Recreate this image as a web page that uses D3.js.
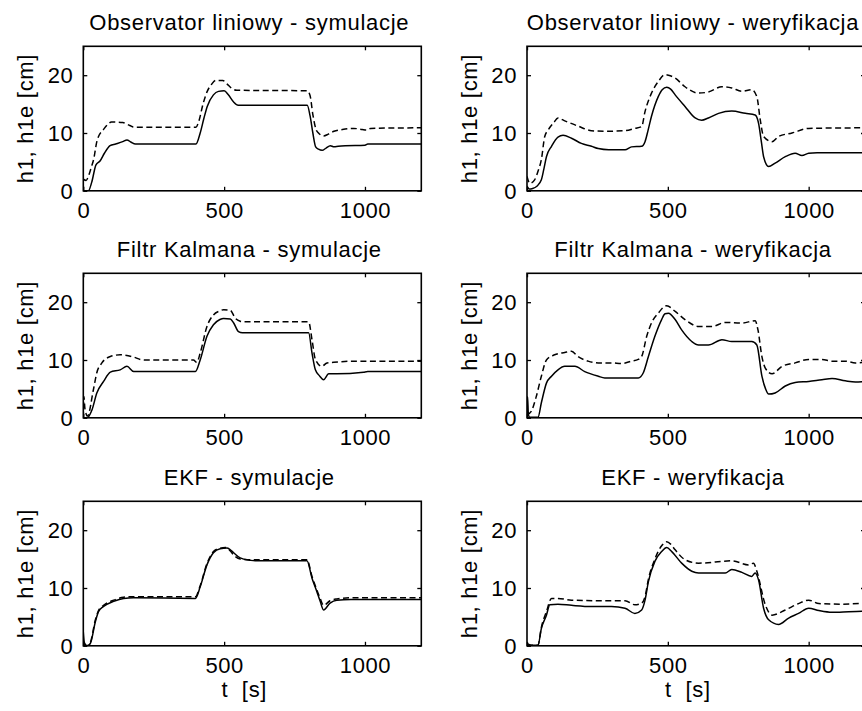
<!DOCTYPE html>
<html>
<head>
<meta charset="utf-8">
<script src="https://cdn.jsdelivr.net/npm/d3@7"></script>
<style>
  html, body { margin: 0; padding: 0; background: #fff; overflow: hidden; }
  svg { display: block; }
  text { font-family: "Liberation Sans", Arial, Helvetica, sans-serif; fill: #000; }
</style>
</head>
<body>
<svg id="chart" width="862" height="711"></svg>
<script>
// ---- data ----
const titles = [
  "Observator liniowy - symulacje", "Observator liniowy - weryfikacja",
  "Filtr Kalmana - symulacje", "Filtr Kalmana - weryfikacja",
  "EKF - symulacje", "EKF - weryfikacja"
];
const yLabel = "h1, h1e [cm]";
const xLabel = "t  [s]";
const xTicks = [0, 500, 1000];
const yTicks = [0, 10, 20];
const xDomain = [0, 1200];
const yDomain = [0, 25];

// solid = h1, dashed = h1e ; [t (s), h (cm)]
const obsSimSolid = [[0,0],[18,0],[30,1.5],[45,4.5],[60,5.2],[75,6.5],[95,7.8],[115,8.1],[140,8.5],[155,8.8],[170,8.4],[185,8.1],[400,8.1],[415,10],[428,12.5],[440,14.6],[462,16.6],[480,17.2],[500,17.3],[515,16.6],[533,15.4],[550,14.8],[795,14.8],[805,13],[815,10],[825,7.6],[835,7.2],[848,7.0],[862,7.4],[877,7.8],[890,7.6],[905,7.7],[930,7.8],[1000,7.9],[1010,8.1],[1200,8.1]];
const obsSimDashed = [[0,2.0],[10,1.8],[18,2.5],[28,4],[37,5.5],[48,8.5],[56,9.6],[70,10.5],[85,11.4],[100,11.9],[140,11.8],[165,11.3],[180,11.0],[400,11.0],[410,12],[425,15.0],[440,17.2],[455,18.4],[470,19.1],[495,19.1],[510,18.5],[525,17.8],[545,17.4],[795,17.3],[805,16.5],[815,13.2],[825,10.8],[835,10.0],[853,9.5],[870,9.8],[890,10.3],[920,10.6],[960,10.8],[990,10.6],[1005,10.5],[1020,10.8],[1200,10.9]];

const obsVerSolid = [[0,0.8],[8,0.3],[20,0.4],[35,0.8],[51,1.9],[60,3.8],[69,5.9],[87,7.7],[110,9.3],[128,9.6],[158,9.1],[193,8.2],[229,7.7],[253,7.3],[290,7.1],[348,7.1],[371,7.6],[407,7.7],[419,8.5],[430,10.5],[442,12.9],[466,16.3],[480,17.5],[496,17.9],[510,17.6],[526,16.6],[561,14.6],[597,12.6],[620,12.2],[644,12.6],[680,13.4],[727,13.8],[775,13.4],[810,13.1],[822,11.7],[832,8.5],[840,5.9],[858,4.2],[881,4.8],[917,5.9],[952,6.5],[976,6.1],[1000,6.5],[1030,6.6],[1200,6.6]];
const obsVerDashed = [[0,2.5],[10,1.3],[27,1.9],[40,3.5],[51,5.4],[63,9.4],[75,10.5],[95,11.8],[110,12.6],[134,12.1],[181,11.2],[229,10.4],[276,10.3],[348,10.4],[383,10.8],[407,11.1],[419,13.7],[442,16.9],[466,18.9],[490,20.1],[502,20.0],[526,19.5],[561,18.0],[609,16.9],[644,17.1],[692,18.0],[727,17.8],[763,17.2],[798,17.5],[816,16.3],[828,12.3],[840,9.4],[870,8.5],[893,9.4],[941,10.0],[1000,10.8],[1200,10.9]];

const kalSimSolid = [[0,0],[13,0],[31,1.4],[48,4.3],[72,6.3],[96,7.9],[131,8.3],[155,8.9],[179,8.0],[398,8.0],[415,10],[439,14.1],[462,16.1],[485,17.0],[498,17.2],[522,17.1],[534,16.4],[551,14.9],[565,14.7],[800,14.7],[812,11.2],[824,8.3],[838,7.3],[853,6.6],[871,7.6],[900,7.6],[995,7.9],[1010,8.0],[1200,8.0]];
const kalSimDashed = [[0,0],[2,3.7],[6,1.5],[15,0.3],[36,4.9],[48,7.8],[66,9.5],[96,10.6],[131,10.9],[179,10.5],[202,10.1],[220,10.0],[391,10.0],[403,9.6],[415,11.2],[439,15.8],[462,17.8],[485,18.5],[498,18.7],[522,18.6],[540,17.2],[557,16.7],[570,16.6],[800,16.6],[812,13.5],[824,10.1],[847,8.9],[865,9.5],[889,9.6],[950,9.8],[1200,9.8]];

const kalVerSolid = [[0,0],[2,3.7],[5,0.5],[10,0.1],[39,0.1],[51,2.6],[69,6.0],[87,7.2],[110,8.3],[134,8.9],[170,8.9],[205,8.0],[253,7.2],[276,6.9],[300,6.9],[395,6.9],[413,7.8],[431,10.6],[454,14.1],[478,17.0],[490,18.0],[502,18.1],[526,17.0],[549,15.2],[585,13.2],[609,12.6],[644,12.6],[692,13.5],[727,13.2],[798,13.2],[816,12.6],[834,7.2],[847,5.0],[858,4.1],[881,4.3],[917,5.5],[952,6.1],[1000,6.3],[1047,6.6],[1083,6.8],[1130,6.4],[1166,6.2],[1200,6.3]];
const kalVerDashed = [[0,0.5],[15,1.1],[33,3.7],[51,7.2],[69,10.0],[98,10.9],[134,11.3],[158,11.5],[181,10.6],[217,9.8],[253,9.5],[300,9.5],[336,9.4],[371,9.8],[395,10.1],[407,10.6],[425,14.1],[442,16.4],[466,18.1],[496,19.4],[526,18.4],[561,17.0],[609,15.8],[656,15.8],[704,16.5],[763,16.4],[810,16.8],[820,15.2],[834,10.6],[846,8.6],[870,7.6],[905,8.9],[952,9.5],[1000,10.1],[1047,10.1],[1083,9.8],[1130,9.8],[1166,9.5],[1200,9.6]];

const ekfSimSolid = [[0,2.4],[4,0.5],[13,0],[25,0.4],[43,4.2],[54,5.9],[72,6.8],[108,7.7],[143,8.2],[179,8.3],[398,8.2],[415,10.2],[439,14.0],[462,16.1],[486,16.8],[510,16.9],[522,16.6],[534,16.1],[557,15.2],[592,14.8],[610,14.7],[794,14.7],[812,11.7],[829,9.4],[841,7.7],[853,6.2],[876,7.4],[900,7.9],[950,8.0],[1200,8.0]];
const ekfSimDashed = [[0,0.3],[13,0],[25,0.6],[43,4.5],[54,6.1],[72,7.0],[108,7.9],[143,8.4],[179,8.5],[398,8.5],[415,10.4],[439,14.2],[462,16.3],[486,16.9],[505,17.0],[522,16.4],[534,15.7],[557,15.0],[592,14.9],[794,14.9],[812,12.0],[829,9.7],[841,8.2],[853,7.0],[876,7.8],[900,8.1],[950,8.3],[1200,8.3]];

const ekfVerSolid = [[0,0.4],[15,0.1],[39,0.1],[51,3.0],[69,5.3],[81,7.1],[110,7.2],[158,7.0],[229,6.8],[300,6.8],[348,6.5],[383,5.6],[407,6.2],[419,7.9],[431,11.1],[454,14.6],[478,16.3],[496,17.0],[514,16.3],[549,14.3],[585,12.9],[609,12.6],[668,12.6],[704,12.6],[727,13.2],[763,12.7],[798,12.0],[810,12.6],[822,11.4],[840,6.5],[858,4.5],[893,3.7],[929,4.8],[964,5.6],[1000,6.5],[1036,6.1],[1083,5.8],[1142,5.9],[1200,6.0]];
const ekfVerDashed = [[0,0.1],[39,0.1],[51,3.2],[69,5.9],[87,8.2],[110,8.2],[158,7.9],[253,7.8],[348,7.8],[383,7.1],[407,7.4],[419,8.5],[431,11.5],[454,15.0],[478,17.3],[496,18.0],[510,17.6],[526,16.6],[561,14.9],[609,14.3],[727,14.7],[787,14.0],[804,14.3],[816,12.9],[846,7.1],[870,5.3],[917,6.2],[964,7.3],[1000,7.9],[1036,7.3],[1118,7.2],[1200,7.4]];

const panelSolid = [obsSimSolid, obsVerSolid, kalSimSolid, kalVerSolid, ekfSimSolid, ekfVerSolid];
const panelDashed = [obsSimDashed, obsVerDashed, kalSimDashed, kalVerDashed, ekfSimDashed, ekfVerDashed];

// ---- layout ----
const colLeft = [83.3, 527];
const rowTop = [46.3, 273.3, 501.3];
const W = 338, H = 144.5;
const FS = 22;

const svg = d3.select("#chart");

titles.forEach((title, i) => {
  const col = i % 2, row = Math.floor(i / 2);
  const g = svg.append("g").attr("transform", `translate(${colLeft[col]},${rowTop[row]})`);
  const x = d3.scaleLinear().domain(xDomain).range([0, W]);
  const y = d3.scaleLinear().domain(yDomain).range([H, 0]);

  const clipId = "clip" + i;
  g.append("clipPath").attr("id", clipId)
    .append("rect").attr("x", 0).attr("y", 0).attr("width", W).attr("height", H);

  const line = d3.line().x(d => x(d[0])).y(d => y(d[1])).curve(d3.curveMonotoneX);

  const plot = g.append("g").attr("clip-path", `url(#${clipId})`);
  plot.append("path").datum(panelSolid[i])
    .attr("d", line).attr("fill", "none").attr("stroke", "#000")
    .attr("stroke-width", 1.5).attr("stroke-linejoin", "round");
  plot.append("path").datum(panelDashed[i])
    .attr("d", line).attr("fill", "none").attr("stroke", "#000")
    .attr("stroke-width", 1.5).attr("stroke-dasharray", "6,3.5");

  // axes with inward ticks on all sides
  const tl = 4;
  const axB = d3.axisBottom(x).tickValues(xTicks).tickSize(-tl).tickPadding(12).tickFormat(d3.format("d"));
  const axT = d3.axisTop(x).tickValues(xTicks).tickSize(-tl).tickFormat("");
  const axL = d3.axisLeft(y).tickValues(yTicks).tickSize(-tl).tickPadding(10).tickFormat(d3.format("d"));
  const axR = d3.axisRight(y).tickValues(yTicks).tickSize(-tl).tickFormat("");

  const gb = g.append("g").attr("transform", `translate(0,${H})`).call(axB);
  const gt = g.append("g").call(axT);
  const gl = g.append("g").call(axL);
  const gr = g.append("g").attr("transform", `translate(${W},0)`).call(axR);
  [gb, gt, gl, gr].forEach(a => {
    a.select(".domain").remove();
    a.selectAll(".tick line").attr("stroke", "#000").attr("stroke-width", 1.3);
    a.selectAll("text").attr("font-size", FS).attr("letter-spacing", "0.6px")
      .style("font-family", '"Liberation Sans", Arial, sans-serif').attr("fill", "#000");
  });
  gb.selectAll(".tick text").attr("dy", "0.71em").attr("y", 12);
  gl.selectAll(".tick text").attr("dy", "0.35em");

  g.append("rect").attr("x", 0).attr("y", 0).attr("width", W).attr("height", H)
    .attr("fill", "none").attr("stroke", "#000").attr("stroke-width", 1.6);

  // title
  g.append("text").attr("x", W / 2 - 3).attr("y", -16.5)
    .attr("text-anchor", "middle").attr("font-size", FS).attr("letter-spacing", "0.72px")
    .text(title);

  // y label
  g.append("text")
    .attr("transform", `translate(${-58},${H / 2}) rotate(-90)`)
    .attr("text-anchor", "middle").attr("dy", "0.35em")
    .attr("font-size", FS).attr("letter-spacing", "0.7px")
    .text(yLabel);

  // x label (bottom row)
  if (row === 2) {
    g.append("text").attr("x", W / 2 - 8).attr("y", H + 51.5)
      .attr("text-anchor", "middle").attr("font-size", FS).attr("letter-spacing", "0.7px")
      .attr("xml:space", "preserve")
      .text(xLabel);
  }
});
</script>
</body>
</html>
